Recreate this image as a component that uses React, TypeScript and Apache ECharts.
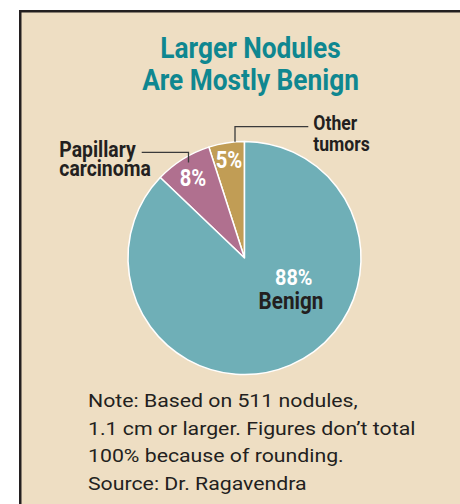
import React, { useEffect, useRef } from 'react';
import * as echarts from 'echarts';

// ---- data ----
const categories = ['Other tumors', 'Papillary carcinoma', 'Benign'];
const labelNames = ['Other\ntumors', 'Papillary\ncarcinoma', 'Benign'];
const values = [5, 8, 88];
const sliceColors = ['#c19d55', '#b0708f', '#6fafb7'];
const titleLines = ['Larger Nodules', 'Are Mostly Benign'];
const noteLines = [
  'Note: Based on 511 nodules,',
  '1.1 cm or larger. Figures don\u2019t total',
  '100% because of rounding.',
];
const sourceText = 'Source: Dr. Ragavendra';

// ---- layout / style ----
const FONT = "Roboto, 'Liberation Sans', sans-serif";
const DARK = '#231f20';
const CENTER: [number, number] = [244.5, 258];
const RADIUS = 116.5;
const COND = 0.88; // horizontal squeeze to mimic a condensed face
const pctPos = [
  [229, 160.5],
  [193, 178],
  [293.7, 276.8],
];
const namePos = [
  { x: 313.3, y: 134.2, lh: 21, size: 20, align: 'left' },
  { x: 59.3, y: 159.2, lh: 19.4, size: 22, align: 'left' },
  { x: 291, y: 301, lh: 24, size: 23.5, align: 'center' },
];
const leaderPts = [
  [
    [235, 141.8],
    [235, 126.7],
    [308.3, 126.7],
  ],
  [
    [188.5, 162.5],
    [188.5, 152.3],
    [141.7, 152.3],
  ],
];

export default function App() {
  const ref = useRef<HTMLDivElement>(null);
  useEffect(() => {
    if (!ref.current) return;
    const chart = echarts.init(ref.current, undefined, { renderer: 'svg' });

    const pctTexts = values.map((v, i) => ({
      type: 'text',
      x: pctPos[i][0],
      y: pctPos[i][1],
      scaleX: COND,
      silent: true,
      z: 10,
      style: {
        text: `${v}%`,
        fontFamily: FONT,
        fontSize: i === 2 ? 22.5 : 23,
        fontWeight: 'bold',
        fill: '#ffffff',
        align: 'center',
        verticalAlign: 'middle',
      },
    }));
    const nameTexts = labelNames.map((n, i) => ({
      type: 'text',
      x: namePos[i].x,
      y: namePos[i].y,
      scaleX: COND,
      silent: true,
      z: 10,
      style: {
        text: n,
        fontFamily: FONT,
        fontSize: namePos[i].size,
        lineHeight: namePos[i].lh,
        fontWeight: 'bold',
        fill: DARK,
        align: namePos[i].align,
        verticalAlign: 'middle',
      },
    }));
    const leaders = leaderPts.map((pts) => ({
      type: 'polyline',
      silent: true,
      z: 9,
      shape: { points: pts },
      style: { stroke: '#3a3a3a', lineWidth: 1.3, fill: 'none' },
    }));

    chart.setOption({
      animation: false,
      backgroundColor: '#ffffff',
      graphic: [
        {
          type: 'rect',
          z: -10,
          silent: true,
          shape: { x: 20.25, y: 11.25, width: 460, height: 510 },
          style: { fill: '#eedec3', stroke: DARK, lineWidth: 2.5 },
        },
        {
          type: 'text',
          x: 250.5,
          y: 63.6,
          scaleX: 0.89,
          silent: true,
          style: {
            text: titleLines.join('\n'),
            fontFamily: FONT,
            fontSize: 29.5,
            lineHeight: 32,
            fontWeight: 'bold',
            fill: '#0f8790',
            align: 'center',
            verticalAlign: 'middle',
          },
        },
        {
          type: 'text',
          x: 88,
          y: 387,
          scaleX: 1.12,
          silent: true,
          style: {
            text: noteLines.join('\n'),
            fontFamily: FONT,
            fontSize: 19,
            lineHeight: 27.3,
            fill: DARK,
            align: 'left',
            verticalAlign: 'top',
          },
        },
        {
          type: 'text',
          x: 88,
          y: 483.3,
          scaleX: 1.12,
          silent: true,
          style: {
            text: sourceText,
            fontFamily: FONT,
            fontSize: 19,
            fill: DARK,
            align: 'left',
            verticalAlign: 'middle',
          },
        },
        ...leaders,
        ...pctTexts,
        ...nameTexts,
      ],
      series: [
        {
          type: 'pie',
          center: CENTER,
          radius: [0, RADIUS],
          startAngle: 90,
          clockwise: false,
          silent: true,
          emphasis: { disabled: true },
          itemStyle: { borderColor: '#ffffff', borderWidth: 1.5 },
          label: { show: false },
          labelLine: { show: false },
          data: values.map((v, i) => ({
            name: categories[i],
            value: v,
            itemStyle: { color: sliceColors[i] },
          })),
        },
      ],
    });
    return () => chart.dispose();
  }, []);
  return (
    <div
      ref={ref}
      style={{ position: 'fixed', left: 0, top: 0, width: 460, height: 504 }}
    />
  );
}
